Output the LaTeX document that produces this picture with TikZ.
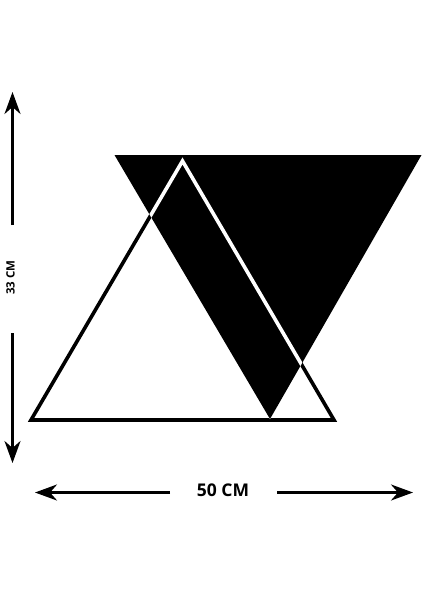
\documentclass[tikz,border=0pt]{standalone}
\usepackage{fontspec}
\setmainfont{Open Sans}
\usetikzlibrary{arrows.meta}
\tikzset{
  dimline/.style={line width=2.6pt, -{Stealth[length=22pt,width=16pt,inset=7pt]}},
  dimlabel/.style={inner sep=0pt, font=\bfseries},
  outline/.style={line width=3.6pt, line join=miter},
}
\begin{document}
\begin{tikzpicture}[x=1pt,y=-1pt]
\useasboundingbox (0,0) rectangle (424,600);
% outline triangle vertices
\coordinate (ta) at (182.5,161);
\coordinate (tl) at (31,420);
\coordinate (tr) at (334,420);
% inverted black triangle vertices
\coordinate (bl) at (114.5,155);
\coordinate (br) at (421.5,155);
\coordinate (bb) at (270,419);
% outline triangle in black
\draw[outline, black] (ta) -- (tl) -- (tr) -- cycle;
% black inverted triangle
\fill[black] (bl) -- (br) -- (bb) -- cycle;
% outline triangle shown in white inside the black triangle
\begin{scope}
  \clip (bl) -- (br) -- (bb) -- cycle;
  \draw[outline, white] (ta) -- (tl) -- (tr) -- cycle;
\end{scope}
% vertical dimension
\node[dimlabel, rotate=90, font=\bfseries\fontsize{11.5}{12}\selectfont] (vlab) at (10.5,277.5) {33 CM};
\coordinate (vtopstart) at (12.5,225);
\coordinate (vtoptip) at (12.5,92);
\coordinate (vbotstart) at (12.5,333);
\coordinate (vbottip) at (12.5,463);
\draw[dimline] (vtopstart) -- (vtoptip);
\draw[dimline] (vbotstart) -- (vbottip);
% horizontal dimension
\node[dimlabel, font=\bfseries\fontsize{17.5}{18}\selectfont] (hlab) at (223,490) {50 CM};
\coordinate (hleftstart) at (170,492.5);
\coordinate (hlefttip) at (35,492.5);
\coordinate (hrightstart) at (277,492.5);
\coordinate (hrighttip) at (413,492.5);
\draw[dimline] (hleftstart) -- (hlefttip);
\draw[dimline] (hrightstart) -- (hrighttip);
\end{tikzpicture}
\end{document}
